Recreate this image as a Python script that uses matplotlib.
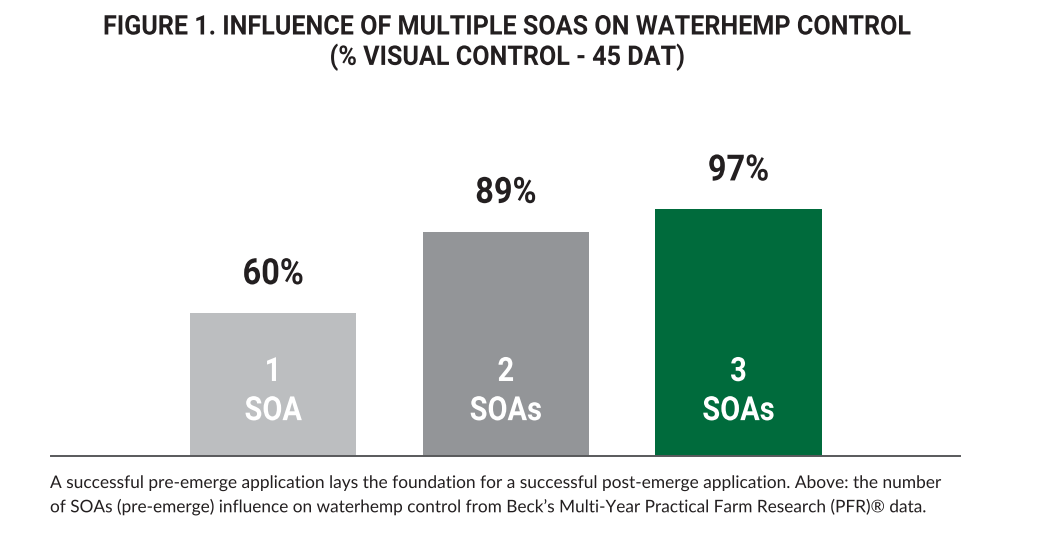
import matplotlib
matplotlib.use('Agg')
import matplotlib.pyplot as plt
from matplotlib.patheffects import AbstractPathEffect
from matplotlib.transforms import Affine2D, blended_transform_factory

# Data
categories = ['1 SOA', '2 SOAs', '3 SOAs']
counts = ['1', '2', '3']
units = ['SOA', 'SOAs', 'SOAs']
control = [60, 89, 97]
colors = ['#bcbec0', '#939598', '#006b3c']

title_lines = ['FIGURE 1. INFLUENCE OF MULTIPLE SOAS ON WATERHEMP CONTROL',
               '(% VISUAL CONTROL - 45 DAT)']
caption_lines = ['A successful pre-emerge application lays the foundation for a successful post-emerge application. Above: the number',
                 'of SOAs (pre-emerge) influence on waterhemp control from Beck\u2019s Multi-Year Practical Farm Research (PFR)\u00ae data.']

bold_font = ['Roboto', 'Liberation Sans', 'DejaVu Sans']
body_font = ['Lato', 'Liberation Sans', 'DejaVu Sans']
dark = '#231f20'


class Squeeze(AbstractPathEffect):
    # narrows the glyphs horizontally, the reference uses a condensed face
    def __init__(self, sx, anchor='center'):
        super().__init__()
        self.sx = sx
        self.anchor = anchor

    def draw_path(self, renderer, gc, tpath, affine, rgbFace=None):
        ext = tpath.get_extents()
        cx = ext.x0 if self.anchor == 'left' else (ext.x0 + ext.x1) / 2
        t = Affine2D().translate(-cx, 0).scale(self.sx, 1).translate(cx, 0) + affine
        renderer.draw_path(gc, tpath, t, rgbFace)


fig = plt.figure(figsize=(10.4, 5.46), dpi=100)
ax = fig.add_axes([51 / 1040, 90 / 546, 909 / 1040, 356 / 546])

x = list(range(len(categories)))
ax.bar(x, control, width=0.714, color=colors, zorder=1)
ax.set_xlim(-0.955, 2.952)
ax.set_ylim(9, 136)

for s in ['top', 'left', 'right']:
    ax.spines[s].set_visible(False)
ax.spines['bottom'].set_color('#58595b')
ax.spines['bottom'].set_linewidth(1.4)
ax.spines['bottom'].set_zorder(3)
ax.set_xticks([])
ax.set_yticks([])

# Value labels above bars
for xi, v in zip(x, control):
    ax.annotate(f'{v}%', (xi, v), xytext=(0, 28), textcoords='offset points',
                ha='center', va='center', fontsize=26, fontweight='bold',
                family=bold_font, color=dark, path_effects=[Squeeze(0.9)])

# Labels inside bars
tr = blended_transform_factory(ax.transData, ax.transAxes)
for xi, c, u in zip(x, counts, units):
    ax.text(xi, 0.236, c, transform=tr, ha='center', va='center', fontsize=24,
            fontweight='bold', family=bold_font, color='white', path_effects=[Squeeze(0.87)])
    ax.text(xi, 0.126, u, transform=tr, ha='center', va='center', fontsize=24,
            fontweight='bold', family=bold_font, color='white', path_effects=[Squeeze(0.87)])

# Title
t1 = fig.text(0.488, 1 - 27 / 546, title_lines[0], ha='center', va='center', fontsize=19.5,
              fontweight='bold', family=bold_font, color=dark)
t2 = fig.text(0.488, 1 - 57 / 546, title_lines[1], ha='center', va='center', fontsize=19.5,
              fontweight='bold', family=bold_font, color=dark)

# Caption
c1 = fig.text(50 / 1040, 1 - 483 / 546, caption_lines[0], ha='left', va='center', fontsize=12.5,
              family=body_font, color=dark)
c2 = fig.text(50 / 1040, 1 - 507 / 546, caption_lines[1], ha='left', va='center', fontsize=12.5,
              family=body_font, color=dark)

# fit widths of the long texts to the reference
renderer = fig.canvas.get_renderer()
for txt, width, anchor in [(t1, 809, 'center'), (t2, 356, 'center'),
                           (c1, 895, 'left'), (c2, 880, 'left')]:
    w = txt.get_window_extent(renderer).width
    txt.set_path_effects([Squeeze(min(1.03, width / w), anchor)])

fig.savefig('out.png', dpi=100)
